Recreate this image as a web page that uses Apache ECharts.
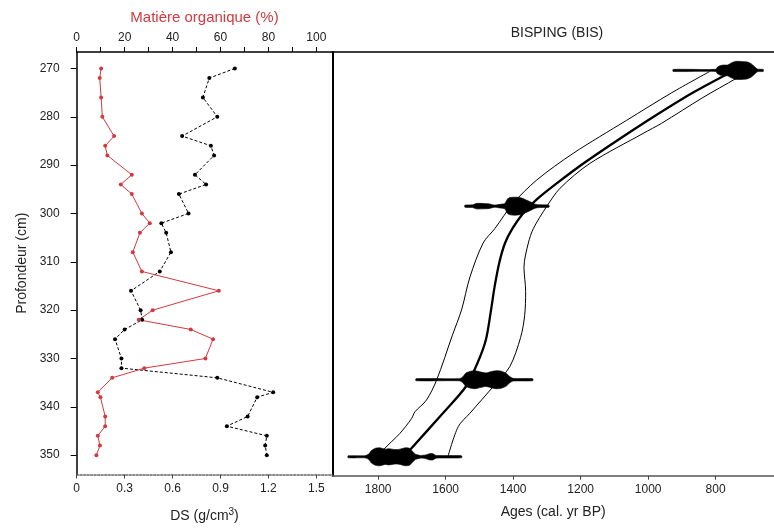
<!DOCTYPE html>
<html><head><meta charset="utf-8">
<script src="https://cdn.jsdelivr.net/npm/echarts@6/dist/echarts.min.js"></script>
<style>html,body{margin:0;padding:0;background:#fff}#c{width:774px;height:528px}</style>
</head><body><div id="c"></div>
<script>
// ---- tick labels ----
const depthTicks = [270, 280, 290, 300, 310, 320, 330, 340, 350];
const dsTicks = [0, 0.3, 0.6, 0.9, 1.2, 1.5];
const moTicks = [0, 20, 40, 60, 80, 100];
const moMinorTicks = [0, 10, 20, 30, 40, 50, 60, 70, 80, 90, 100];
const ageTicks = [1800, 1600, 1400, 1200, 1000, 800];

// ---- DS (g/cm3) profile ----
const dsDepth = [270, 272, 276, 280, 284, 286, 288, 292, 294, 296, 300, 302, 304, 308, 312, 316, 320, 322, 324, 326, 330, 332, 334, 337, 338, 342, 344, 346, 348, 350];
const dsValues = [0.99, 0.83, 0.79, 0.88, 0.66, 0.84, 0.86, 0.74, 0.81, 0.64, 0.70, 0.53, 0.56, 0.59, 0.52, 0.34, 0.40, 0.41, 0.30, 0.24, 0.28, 0.28, 0.88, 1.23, 1.13, 1.07, 0.94, 1.19, 1.18, 1.19];

// ---- Matière organique (%) profile ----
const moDepth = [270, 272, 276, 280, 284, 286, 288, 292, 294, 296, 300, 302, 304, 308, 312, 316, 320, 322, 324, 326, 330, 332, 334, 337, 338, 342, 344, 346, 348, 350];
const moValues = [10.2, 9.6, 10.2, 10.7, 15.6, 11.9, 12.8, 23.0, 18.4, 23.0, 27.2, 30.5, 26.4, 23.4, 27.2, 59.3, 31.7, 25.9, 47.6, 56.9, 53.7, 28.2, 14.8, 8.8, 9.9, 11.9, 11.9, 8.8, 9.7, 8.2];

// ---- age-depth model ----
const meanDepth = [270.5, 275, 280, 285, 289.5, 293.7, 297, 300, 303, 306, 310, 315, 320, 326, 330.8, 335.6, 341, 348.7, 350.2];
const meanAge = [748, 868, 985, 1095, 1190, 1271, 1330, 1372, 1402, 1424, 1441, 1455, 1466, 1481, 1506, 1540, 1607, 1706, 1725];

const oldDepth = [270.6, 275, 280.7, 287.5, 293, 297.8, 303, 306, 313, 319.8, 325, 334.3, 338.4, 340.8, 342.2, 345.3, 348.7, 350.1];
const oldAge = [817, 930, 1064, 1222, 1330, 1400, 1454, 1489, 1528, 1553, 1580, 1627, 1657, 1691, 1701, 1736, 1785, 1797];

const youngDepth = [270.5, 272, 276, 281.3, 283.4, 289.6, 294.7, 298.5, 303, 306, 311, 316, 321, 325.5, 331.5, 335.6, 341.1, 343.9, 350];
const youngAge = [705, 738, 838, 960, 1015, 1173, 1261, 1301, 1340, 1355, 1368, 1363, 1366, 1378, 1410, 1459, 1528, 1563, 1593];

// ---- calibrated date distributions (age, relative probability) ----
const dateDepths = [270.4, 298.4, 334.2, 350.1];
const date1Ages = [926, 800, 795, 785, 775, 765, 755, 742, 725, 708, 695, 684, 676, 659];
const date1Prob = [0.1, 0.12, 0.35, 0.55, 0.6, 0.6, 0.8, 1.0, 1.0, 0.95, 0.75, 0.4, 0.15, 0.1];
const date2Ages = [1543, 1520, 1510, 1490, 1470, 1455, 1440, 1425, 1418, 1410, 1395, 1380, 1365, 1350, 1335, 1320, 1294];
const date2Prob = [0.1, 0.15, 0.3, 0.3, 0.25, 0.12, 0.2, 0.3, 0.75, 0.95, 1.0, 0.95, 0.75, 0.5, 0.22, 0.15, 0.1];
const date3Ages = [1688, 1560, 1550, 1540, 1525, 1512, 1495, 1480, 1465, 1452, 1435, 1420, 1410, 1400, 1342];
const date3Prob = [0.1, 0.12, 0.3, 0.75, 0.95, 1.0, 0.85, 0.75, 0.9, 1.0, 0.95, 0.7, 0.35, 0.15, 0.1];
const date4Ages = [1889, 1840, 1828, 1820, 1808, 1795, 1780, 1768, 1750, 1735, 1720, 1708, 1698, 1690, 1675, 1660, 1648, 1638, 1628, 1553];
const date4Prob = [0.1, 0.12, 0.3, 0.7, 0.95, 1.0, 0.85, 0.9, 0.8, 0.85, 1.0, 0.95, 0.6, 0.3, 0.15, 0.2, 0.35, 0.35, 0.15, 0.1];

// ---- chart ----
const FONT = 'Liberation Sans, Arial, sans-serif';
const TXT = '#222';
const RED = '#d23a3f';
const depthMin = 266.6, depthMax = 354;
const dsMax = 1.6, moMax = 1.6 / 1.5 * 100;
const ageMin = 627, ageMax = 1936;
const BLOB_H = 9;

function pairs(xs, ys) { return xs.map((x, i) => [x, ys[i]]); }

function blobSeries(ages, prob, depth) {
  return {
    type: 'custom', xAxisIndex: 2, yAxisIndex: 1, silent: true, z: 5,
    data: ages.map((a, i) => [a, depth, prob[i]]),
    renderItem: function (params, api) {
      if (params.dataIndex !== 0) return null;
      const top = [], bot = [];
      for (let i = 0; i < ages.length; i++) {
        const p = api.coord([ages[i], depth]);
        const h = Math.max(1, prob[i] * BLOB_H);
        top.push([p[0], p[1] - h]);
        bot.unshift([p[0], p[1] + h]);
      }
      return {
        type: 'polygon',
        shape: { points: top.concat(bot), smooth: 0.25 },
        style: { fill: '#000', stroke: '#000', lineWidth: 0.6 }
      };
    }
  };
}

const chart = echarts.init(document.getElementById('c'), null, { renderer: 'canvas' });
chart.setOption({
  animation: false,
  backgroundColor: '#fff',
  textStyle: { fontFamily: FONT },
  grid: [
    { left: 76.7, top: 52, width: 255.6, height: 423.7 },
    { left: 332.3, top: 52, right: 0, height: 423.7 }
  ],
  graphic: [{
    type: 'text', x: 557, y: 33,
    style: { text: 'BISPING (BIS)', align: 'center', verticalAlign: 'middle', fontSize: 14, fontFamily: FONT, fill: TXT }
  }],
  xAxis: [
    {
      gridIndex: 0, type: 'value', position: 'bottom', min: 0, max: dsMax,
      splitLine: { show: false },
      axisLine: { lineStyle: { color: '#666', width: 1.5, type: [2, 1.5] } },
      axisTick: { customValues: dsTicks, length: 4, lineStyle: { color: '#444' } },
      axisLabel: { customValues: dsTicks, formatter: v => String(+v.toFixed(1)), fontSize: 12, color: TXT, margin: 8, fontFamily: FONT },
      name: 'DS (g/cm{s|3})', nameLocation: 'middle', nameGap: 33,
      nameTextStyle: { fontSize: 14, color: TXT, fontFamily: FONT, rich: { s: { fontSize: 10, verticalAlign: 'top', padding: [0, 0, 7, 0], fontFamily: FONT, color: TXT } } }
    },
    {
      gridIndex: 0, type: 'value', position: 'top', min: 0, max: moMax,
      splitLine: { show: false },
      axisLine: { lineStyle: { color: '#000', width: 1.5 } },
      axisTick: { customValues: moMinorTicks, length: 5, lineStyle: { color: '#000' } },
      axisLabel: { customValues: moTicks, formatter: v => String(v), fontSize: 12, color: TXT, margin: 8, fontFamily: FONT },
      name: 'Matière organique (%)', nameLocation: 'middle', nameGap: 27,
      nameTextStyle: { fontSize: 15, color: RED, fontFamily: FONT }
    },
    {
      gridIndex: 1, type: 'value', position: 'bottom', inverse: true, min: ageMin, max: ageMax,
      splitLine: { show: false },
      axisLine: { lineStyle: { color: '#555', width: 1.5 } },
      axisTick: { customValues: ageTicks, length: 4, lineStyle: { color: '#444' } },
      axisLabel: { customValues: ageTicks, formatter: v => String(v), fontSize: 12, color: TXT, margin: 8, fontFamily: FONT },
      name: 'Ages (cal. yr BP)', nameLocation: 'middle', nameGap: 29,
      nameTextStyle: { fontSize: 14, color: TXT, fontFamily: FONT }
    },
    {
      gridIndex: 1, type: 'value', position: 'top', inverse: true, min: ageMin, max: ageMax,
      splitLine: { show: false },
      axisLine: { lineStyle: { color: '#000', width: 1.5 } },
      axisTick: { show: false }, axisLabel: { show: false }
    }
  ],
  yAxis: [
    {
      gridIndex: 0, type: 'value', inverse: true, min: depthMin, max: depthMax,
      splitLine: { show: false },
      axisLine: { lineStyle: { color: '#000', width: 1.5 } },
      axisTick: { customValues: depthTicks, length: 6, lineStyle: { color: '#000' } },
      axisLabel: { customValues: depthTicks, formatter: v => String(v), fontSize: 12, color: TXT, margin: 17, fontFamily: FONT },
      name: 'Profondeur (cm)', nameLocation: 'middle', nameGap: 48,
      nameTextStyle: { fontSize: 14, color: TXT, fontFamily: FONT }
    },
    {
      gridIndex: 1, type: 'value', inverse: true, min: depthMin, max: depthMax,
      splitLine: { show: false },
      axisLine: { lineStyle: { color: '#000', width: 2 } },
      axisTick: { show: false }, axisLabel: { show: false }
    }
  ],
  series: [
    {
      name: 'DS', type: 'line', xAxisIndex: 0, yAxisIndex: 0,
      data: pairs(dsValues, dsDepth),
      lineStyle: { color: '#000', width: 1, type: [3, 2] },
      symbol: 'circle', symbolSize: 4, itemStyle: { color: '#000' }
    },
    {
      name: 'MO', type: 'line', xAxisIndex: 1, yAxisIndex: 0,
      data: pairs(moValues, moDepth),
      lineStyle: { color: RED, width: 1 },
      symbol: 'circle', symbolSize: 4, itemStyle: { color: RED }
    },
    {
      name: 'old', type: 'line', xAxisIndex: 2, yAxisIndex: 1, smooth: 0.3,
      data: pairs(oldAge, oldDepth), showSymbol: false,
      lineStyle: { color: '#000', width: 1 }
    },
    {
      name: 'young', type: 'line', xAxisIndex: 2, yAxisIndex: 1, smooth: 0.3,
      data: pairs(youngAge, youngDepth), showSymbol: false,
      lineStyle: { color: '#000', width: 1 }
    },
    {
      name: 'mean', type: 'line', xAxisIndex: 2, yAxisIndex: 1, smooth: 0.3,
      data: pairs(meanAge, meanDepth), showSymbol: false,
      lineStyle: { color: '#000', width: 2.3 }
    },
    blobSeries(date1Ages, date1Prob, dateDepths[0]),
    blobSeries(date2Ages, date2Prob, dateDepths[1]),
    blobSeries(date3Ages, date3Prob, dateDepths[2]),
    blobSeries(date4Ages, date4Prob, dateDepths[3])
  ]
});
</script>
</body></html>
